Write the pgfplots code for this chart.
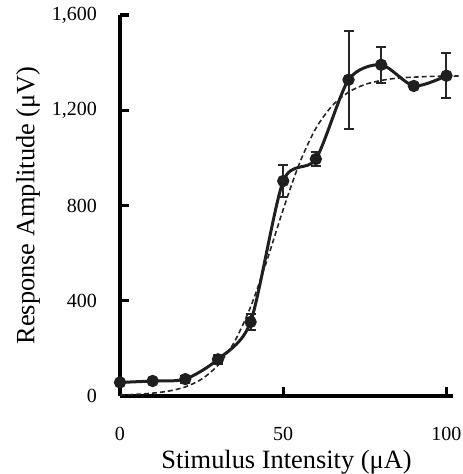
\documentclass[border=0pt]{standalone}
\usepackage{fontspec}
\setmainfont{Liberation Serif}
\usepackage{pgfplots}
\pgfplotsset{compat=1.18}

\begin{document}
\begin{tikzpicture}
\useasboundingbox (-60pt,-39pt) rectangle (171pt,198pt);
\begin{axis}[
  scale only axis, width=166.5pt, height=190.5pt,
  xmin=0, xmax=102, ymin=0, ymax=1600,
  axis x line*=bottom, axis y line*=left,
  axis line style={-, line width=2pt, black},
  xtick={0,50,100}, ytick={0,400,800,1200,1600},
  xtick align=inside, ytick align=inside,
  major tick length=4.5pt,
  xtick style={line width=1.6pt, black},
  ytick style={line width=1.6pt, black},
  tick label style={font=\fontsize{10}{11}\selectfont},
  xticklabel shift=12pt,
  yticklabel shift=8pt,
  yticklabel={\pgfmathprintnumber[1000 sep={,}, assume math mode=true]{\tick}},
  xticklabel={\pgfmathprintnumber[assume math mode=true]{\tick}},
  xlabel={Stimulus Intensity (μA)},
  ylabel={Response Amplitude (μV)},
  label style={font=\fontsize{13.2}{15}\selectfont},
  xlabel style={at={(axis description cs:0.5,-0.173)}, anchor=center},
  ylabel style={at={(axis description cs:-0.276,0.5)}, anchor=center},
  clip=false,
]
  % sigmoid fit, dashed
  \addplot[black!85, line width=0.8pt, dash pattern=on 2.5pt off 1.5pt, smooth] coordinates {
    (0,4) (5,7) (10,12) (15,21) (20,38) (25,71) (30,129) (35,226)
    (40,374) (45,569) (50,784) (55,978) (60,1124) (65,1219) (70,1276)
    (75,1308) (80,1325) (85,1335) (90,1339) (95,1342) (100,1343) (104.5,1344)
  };
  % measured responses
  \addplot[black!88, line width=1.5pt, smooth, tension=0.45,
    mark=*, mark size=2.3pt, mark options={solid, fill=black!88},
    error bars/y dir=both, error bars/y explicit,
    error bars/error bar style={line width=1pt, black!85},
    error bars/error mark options={rotate=90, mark size=2.5pt, line width=1pt, black!85}]
    coordinates {
    (0,57) +- (0,0)
    (10,63) +- (0,0)
    (20,71) +- (0,15)
    (30,154) +- (0,20)
    (40,311) +- (0,35)
    (50,903) +- (0,67)
    (60,995) +- (0,28)
    (70,1328) +- (0,206)
    (80,1391) +- (0,76)
    (90,1302) +- (0,0)
    (100,1345) +- (0,95)
  };
\end{axis}
\end{tikzpicture}
\end{document}
